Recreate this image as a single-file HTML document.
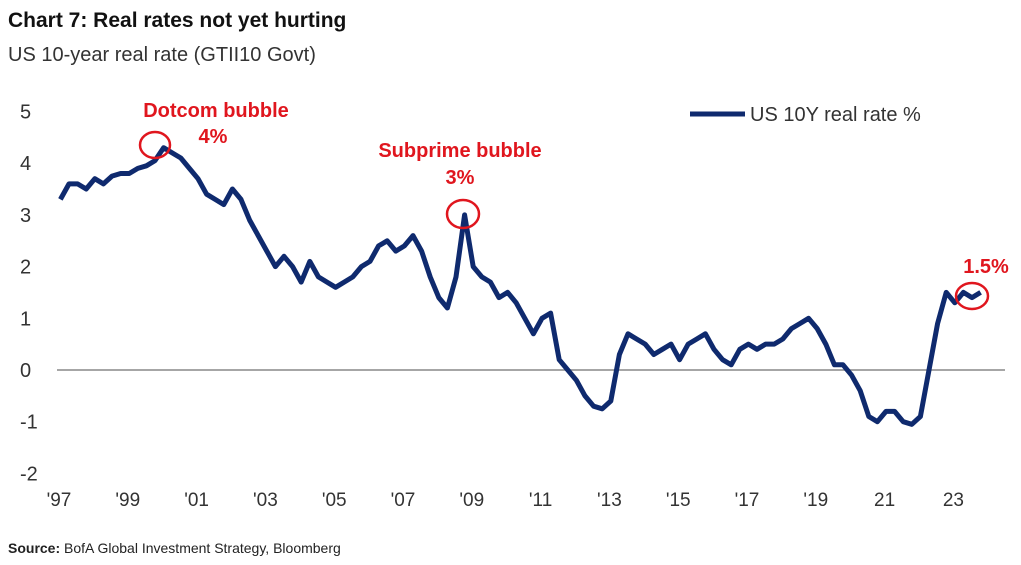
<!DOCTYPE html>
<html><head><meta charset="utf-8"><style>
body{margin:0;background:#fff;width:1021px;height:565px;overflow:hidden;font-family:"Liberation Sans",sans-serif}
</style></head><body>
<svg width="1021" height="565" style="position:absolute;left:0;top:0">
<text x="8" y="27" font-size="21" font-weight="bold" fill="#111">Chart 7: Real rates not yet hurting</text>
<text x="8" y="61" font-size="20" fill="#333">US 10-year real rate (GTII10 Govt)</text>
<g id="yaxis"></g>
<g id="xaxis"></g>
<line x1="57" y1="370" x2="1005" y2="370" stroke="#888" stroke-width="1.5"/>
<path id="series" fill="none" stroke="#0f2a6e" stroke-width="5" stroke-linejoin="round"/>
<g>
<line x1="690" y1="114" x2="745" y2="114" stroke="#0f2a6e" stroke-width="5"/>
<text x="750" y="121" font-size="20" fill="#333">US 10Y real rate %</text>
</g>
<g fill="#e0161e" font-size="20" font-weight="bold" text-anchor="middle">
<text x="216" y="117">Dotcom bubble</text>
<text x="213" y="143">4%</text>
<text x="460" y="157">Subprime bubble</text>
<text x="460" y="184">3%</text>
<text x="986" y="273">1.5%</text>
</g>
<g fill="none" stroke="#e0161e" stroke-width="2.5">
<ellipse cx="155" cy="145" rx="15" ry="13"/>
<ellipse cx="463" cy="214" rx="16" ry="14"/>
<ellipse cx="972" cy="296" rx="16" ry="13"/>
</g>
<text x="8" y="553" font-size="14" fill="#222"><tspan font-weight="bold">Source:</tspan> BofA Global Investment Strategy, Bloomberg</text>
</svg>
<script>
const yTicks=[5,4,3,2,1,0,-1,-2];
const xTickYears=[1997,1999,2001,2003,2005,2007,2009,2011,2013,2015,2017,2019,2021,2023];
const xTickLabels=["'97","'99","'01","'03","'05","'07","'09","'11","'13","'15","'17","'19","21","23"];
const startYear=1997.1;
const stepYears=0.25;
const rates=[3.3,3.6,3.6,3.5, 3.7,3.6,3.75,3.8, 3.8,3.9,3.95,4.05, 4.3,4.2,4.1,3.9,
3.7,3.4,3.3,3.2, 3.5,3.3,2.9,2.6, 2.3,2.0,2.2,2.0, 1.7,2.1,1.8,1.7,
1.6,1.7,1.8,2.0, 2.1,2.4,2.5,2.3, 2.4,2.6,2.3,1.8, 1.4,1.2,1.8,3.0,
2.0,1.8,1.7,1.4, 1.5,1.3,1.0,0.7, 1.0,1.1,0.2,0.0, -0.2,-0.5,-0.7,-0.75,
-0.6,0.3,0.7,0.6, 0.5,0.3,0.4,0.5, 0.2,0.5,0.6,0.7, 0.4,0.2,0.1,0.4,
0.5,0.4,0.5,0.5, 0.6,0.8,0.9,1.0, 0.8,0.5,0.1,0.1, -0.1,-0.4,-0.9,-1.0,
-0.8,-0.8,-1.0,-1.05, -0.9,0.0,0.9,1.5, 1.3,1.5,1.4,1.5];
function xS(yr){return 57+34.4*(yr-1997);}
function yS(v){return 370-51.7*v;}
const NS="http://www.w3.org/2000/svg";
const ya=document.getElementById('yaxis');
yTicks.forEach(v=>{const t=document.createElementNS(NS,'text');
t.setAttribute('x',20);t.setAttribute('y',yS(v)+7);t.setAttribute('font-size',20);t.setAttribute('fill','#333');


t.textContent=v;ya.appendChild(t);});
const xa=document.getElementById('xaxis');
xTickYears.forEach((yr,i)=>{const t=document.createElementNS(NS,'text');
t.setAttribute('x',xS(yr)+2);t.setAttribute('y',506);t.setAttribute('font-size',19);t.setAttribute('fill','#333');t.setAttribute('text-anchor','middle');


t.textContent=xTickLabels[i];xa.appendChild(t);});
let d='';rates.forEach((v,i)=>{d+=(i?'L':'M')+xS(startYear+i*stepYears).toFixed(1)+' '+yS(v).toFixed(1);});
document.getElementById('series').setAttribute('d',d);
</script>
</body></html>
